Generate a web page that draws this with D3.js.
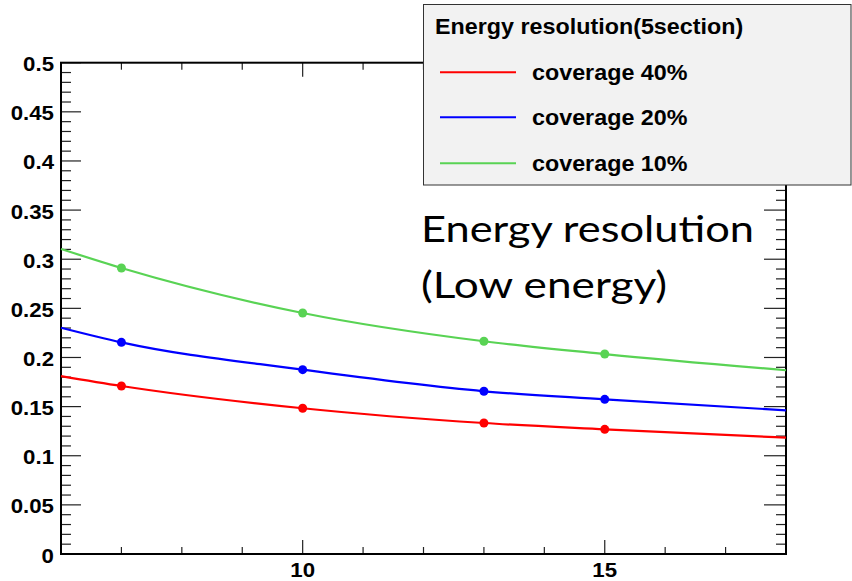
<!DOCTYPE html>
<html>
<head>
<meta charset="utf-8">
<script src="https://cdn.jsdelivr.net/npm/d3@7"></script>
<style>
  html, body { margin: 0; padding: 0; background: #ffffff; }
  svg { display: block; }
</style>
</head>
<body>
<script>
// ---- data ----
const curveX = [6, 7, 10, 13, 15, 18];
const curve40 = [0.1811, 0.1710, 0.1483, 0.1333, 0.1269, 0.1184];
const curve20 = [0.2303, 0.2154, 0.1876, 0.1656, 0.1574, 0.1462];
const curve10 = [0.3104, 0.2911, 0.2453, 0.2165, 0.2035, 0.1870];

const pointX = [7, 10, 13, 15];
const points40 = [0.1710, 0.1483, 0.1333, 0.1269];
const points20 = [0.2154, 0.1876, 0.1656, 0.1574];
const points10 = [0.2911, 0.2453, 0.2165, 0.2035];

const seriesNames = ["coverage 40%", "coverage 20%", "coverage 10%"];
const seriesColors = ["#ff0000", "#0000ff", "#59d354"];
const legendTitle = "Energy resolution(5section)";
const noteLines = ["Energy resolution", "(Low energy)"];

const xTickLabels = [10, 15];
const yTickLabels = [0, 0.05, 0.1, 0.15, 0.2, 0.25, 0.3, 0.35, 0.4, 0.45, 0.5];

// ---- layout ----
const W = 852, H = 581;
const L = 61, R = 786, T = 62.7, B = 554;
const svg = d3.select("body").append("svg").attr("width", W).attr("height", H);

const x = d3.scaleLinear().domain([6, 18]).range([L, R]);
const y = d3.scaleLinear().domain([0, 0.5]).range([B, T]);

const tickColor = "#222";
const fontMain = "'Liberation Sans', Arial, Helvetica, sans-serif";
const SX = 1.06; // horizontal stretch of text in reference

// minor / major ticks
const yMinor = d3.range(0, 0.5001, 0.01).map(v => +v.toFixed(2));
const xMinor = d3.range(6, 18.001, 1);

const ticks = svg.append("g").attr("stroke", tickColor).attr("stroke-width", 1.2);
yMinor.forEach(v => {
  const major = Math.abs(v / 0.05 - Math.round(v / 0.05)) < 1e-6;
  const yy = y(v);
  ticks.append("line").attr("x1", L).attr("x2", L + (major ? 20 : 10)).attr("y1", yy).attr("y2", yy);
  ticks.append("line").attr("x1", R).attr("x2", R - (major ? 22 : 10)).attr("y1", yy).attr("y2", yy);
});
xMinor.forEach(v => {
  const major = v % 5 === 0;
  const xx = x(v);
  ticks.append("line").attr("x1", xx).attr("x2", xx).attr("y1", B).attr("y2", B - (major ? 14 : 7));
  ticks.append("line").attr("x1", xx).attr("x2", xx).attr("y1", T).attr("y2", T + (major ? 14 : 7));
});

// frame
svg.append("rect").attr("x", L).attr("y", T).attr("width", R - L).attr("height", B - T)
  .attr("fill", "none").attr("stroke", "#000").attr("stroke-width", 2);

// tick labels
svg.append("g").selectAll("text").data(yTickLabels).join("text")
  .attr("transform", d => `translate(54,${y(d) + 8.5}) scale(${SX},1)`)
  .attr("text-anchor", "end")
  .attr("font-family", fontMain).attr("font-weight", "bold").attr("font-size", 21)
  .attr("fill", "#000")
  .text(d => d3.format("")(d));

svg.append("g").selectAll("text").data(xTickLabels).join("text")
  .attr("transform", d => `translate(${x(d)},577) scale(${SX},1)`)
  .attr("text-anchor", "middle")
  .attr("font-family", fontMain).attr("font-weight", "bold").attr("font-size", 21)
  .attr("fill", "#000")
  .text(d => d);

// curves
const curves = [curve40, curve20, curve10];
const pts = [points40, points20, points10];
const line = d3.line().x(d => x(d[0])).y(d => y(d[1])).curve(d3.curveMonotoneX);
curves.forEach((c, i) => {
  svg.append("path")
    .datum(curveX.map((xv, j) => [xv, c[j]]))
    .attr("d", line)
    .attr("fill", "none")
    .attr("stroke", seriesColors[i])
    .attr("stroke-width", 2.2);
  svg.append("g").selectAll("circle").data(pointX.map((xv, j) => [xv, pts[i][j]])).join("circle")
    .attr("cx", d => x(d[0])).attr("cy", d => y(d[1])).attr("r", 4.5)
    .attr("fill", seriesColors[i]);
});

// note text
const note = svg.append("g").attr("font-family", "Lato, 'Open Sans', sans-serif").attr("fill", "#000");
note.append("text").attr("x", 421).attr("y", 242).attr("font-size", 37.5)
  .attr("textLength", 333).attr("lengthAdjust", "spacingAndGlyphs").text(noteLines[0]);
note.append("text").attr("x", 421).attr("y", 298).attr("font-size", 37.5)
  .attr("textLength", 246).attr("lengthAdjust", "spacingAndGlyphs").text(noteLines[1]);

// legend
const lg = svg.append("g");
lg.append("rect").attr("x", 423.5).attr("y", 4.5).attr("width", 427.5).attr("height", 180.5)
  .attr("fill", "#f2f2f2").attr("stroke", "#333").attr("stroke-width", 1);
lg.append("text").attr("transform", `translate(435,34) scale(${SX},1)`)
  .attr("font-family", fontMain).attr("font-weight", "bold").attr("font-size", 22)
  .attr("fill", "#000").text(legendTitle);
const rowY = [72.3, 117.3, 163.3];
seriesNames.forEach((n, i) => {
  lg.append("line").attr("x1", 440).attr("x2", 516).attr("y1", rowY[i]).attr("y2", rowY[i])
    .attr("stroke", seriesColors[i]).attr("stroke-width", 2);
  lg.append("text").attr("transform", `translate(532,${rowY[i] + 7.7}) scale(${SX},1)`)
    .attr("font-family", fontMain).attr("font-weight", "bold").attr("font-size", 22)
    .attr("fill", "#000").text(n);
});
</script>
</body>
</html>
